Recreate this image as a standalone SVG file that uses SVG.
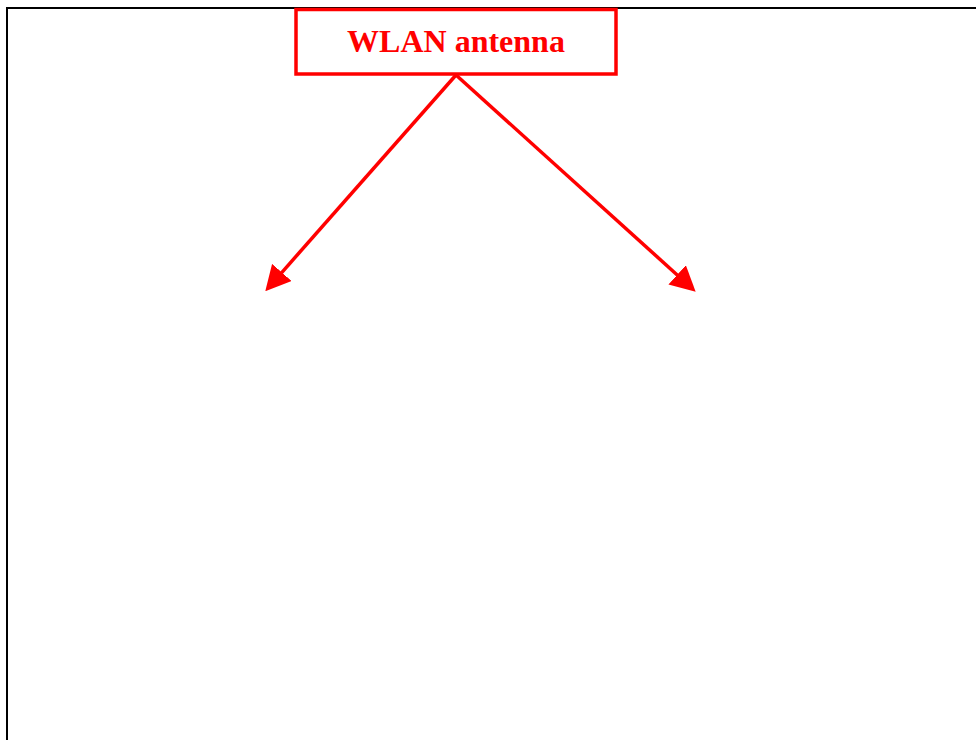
<svg xmlns="http://www.w3.org/2000/svg" width="976" height="740" viewBox="0 0 976 740">
  <style>
    .frame { fill: none; stroke: #000000; stroke-width: 2; }
    .box { fill: #ffffff; stroke: #ff0000; stroke-width: 3.5; }
    .label { font-family: "Liberation Serif", "Times New Roman", serif; font-weight: bold; font-size: 32px; fill: #ff0000; text-anchor: middle; }
    .conn { fill: none; stroke: #ff0000; stroke-width: 3.5; marker-end: url(#arrow); }
  </style>
  <defs>
    <marker id="arrow" viewBox="0 -13 25 26" markerWidth="25" markerHeight="26" refX="0.5" refY="0" orient="auto" markerUnits="userSpaceOnUse">
      <path d="M0,-13 L25,0 L0,13 Z" fill="#ff0000"/>
    </marker>
  </defs>
  <rect width="976" height="740" fill="#ffffff"/>
  <rect class="frame" x="7" y="8" width="1000" height="760"/>
  <g id="connectors">
    <line class="conn" x1="456" y1="75" x2="281.5" y2="272.8"/>
    <line class="conn" x1="456" y1="75" x2="677.5" y2="275.2"/>
  </g>
  <g id="wlan-antenna">
    <rect class="box" x="296" y="9.5" width="320" height="64.5"/>
    <text class="label" x="456" y="51.5">WLAN antenna</text>
  </g>
</svg>
